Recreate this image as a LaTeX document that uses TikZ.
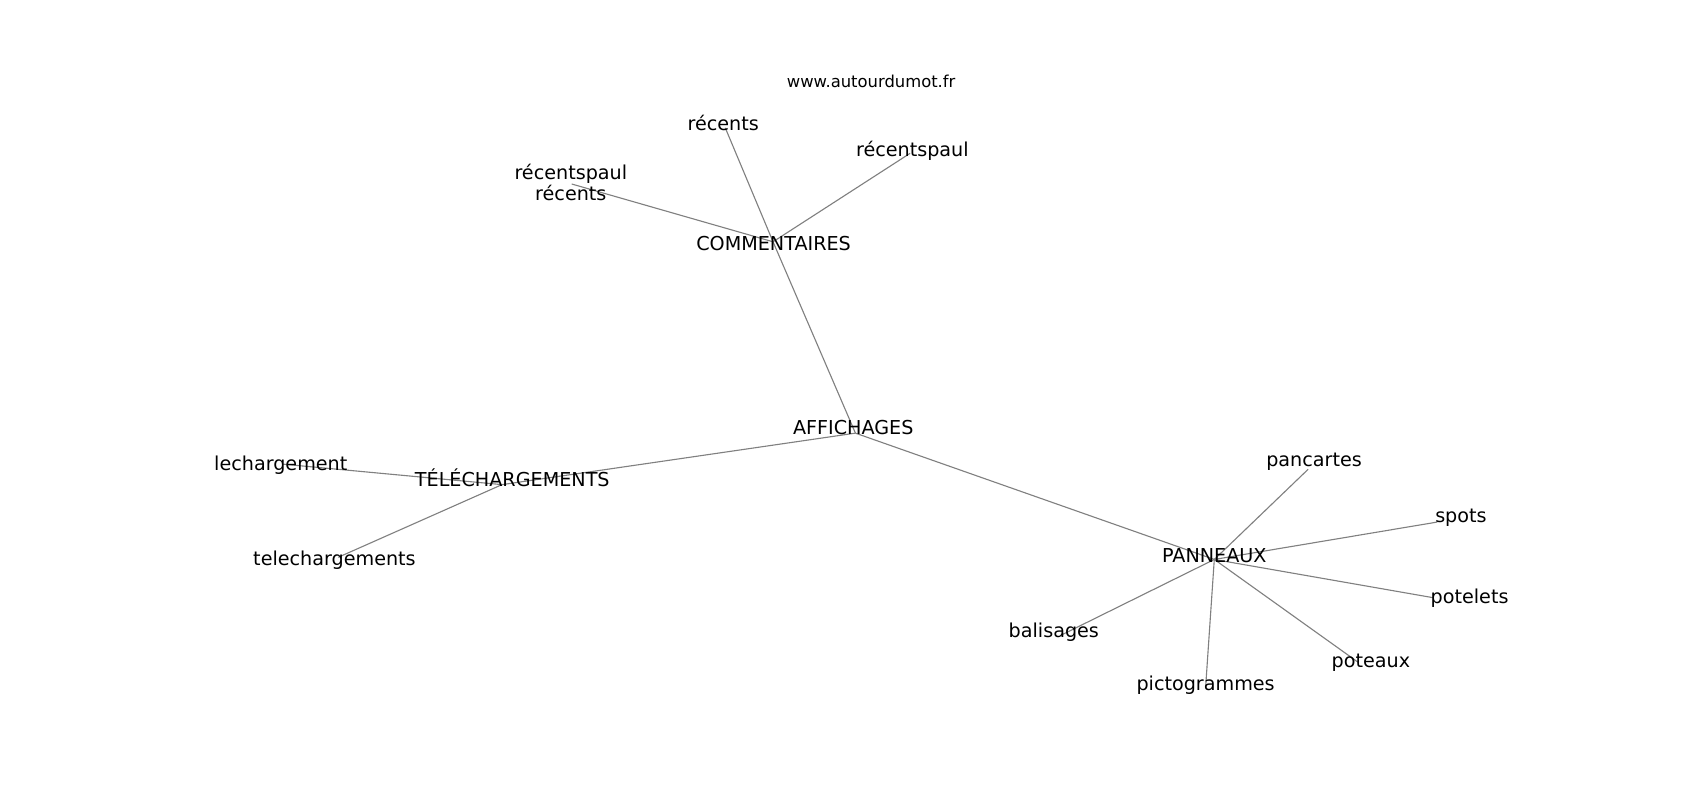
\documentclass[tikz,border=0pt]{standalone}
\usepackage{fontspec}
\setmainfont{DejaVu Sans}
\begin{document}
\begin{tikzpicture}[x=0.7806pt,y=-0.7806pt,
  edge/.style={draw=black!50, line width=0.8pt},
  lbl/.style={font=\fontsize{13.8}{14.9}\selectfont, inner sep=0pt, anchor=base, text=black},
  ttl/.style={font=\fontsize{11.8}{14}\selectfont, inner sep=0pt, anchor=base, text=black}]
\useasboundingbox (0,0) rectangle (1568,738);
\fill[white] (0,0) rectangle (1568,738);
% graph node positions
\coordinate (affichages) at (789,399.5);
\coordinate (commentaires) at (713,223);
\coordinate (recents) at (669,118);
\coordinate (recentspaul) at (839.4,141.4);
\coordinate (recpr) at (527.3,169.7);
\coordinate (telechs) at (463,447);
\coordinate (lechargement) at (260,428);
\coordinate (telechargements) at (312,514);
\coordinate (panneaux) at (1120,516);
\coordinate (pancartes) at (1206.6,432.8);
\coordinate (spots) at (1325.7,481.5);
\coordinate (potelets) at (1322,551.3);
\coordinate (poteaux) at (1252.6,610.8);
\coordinate (pictogrammes) at (1112,633.8);
\coordinate (balisages) at (979.6,585.4);
% edges
\draw[edge] (affichages) -- (commentaires);
\draw[edge] (affichages) -- (telechs);
\draw[edge] (affichages) -- (panneaux);
\draw[edge] (commentaires) -- (recents);
\draw[edge] (commentaires) -- (recentspaul);
\draw[edge] (commentaires) -- (recpr);
\draw[edge] (telechs) -- (lechargement);
\draw[edge] (telechs) -- (telechargements);
\draw[edge] (panneaux) -- (pancartes);
\draw[edge] (panneaux) -- (spots);
\draw[edge] (panneaux) -- (potelets);
\draw[edge] (panneaux) -- (poteaux);
\draw[edge] (panneaux) -- (pictogrammes);
\draw[edge] (panneaux) -- (balisages);
% labels
\node[ttl] (title) at (803.5,81) {www.autourdumot.fr};
\node[lbl] (l-recents) at (667,120) {récents};
\node[lbl] (l-recentspaul) at (841.5,144.5) {récentspaul};
\node[lbl, anchor=center, align=center] (l-recpr) at (526.5,168.5) {récentspaul\\récents};
\node[lbl] (l-commentaires) at (713.5,231) {COMMENTAIRES};
\node[lbl] (l-affichages) at (787,401) {AFFICHAGES};
\node[lbl] (l-telechs) at (472.5,449) {TÉLÉCHARGEMENTS};
\node[lbl] (l-lechargement) at (259,434) {lechargement};
\node[lbl] (l-telechargements) at (308.5,522) {telechargements};
\node[lbl] (l-panneaux) at (1120,518.5) {PANNEAUX};
\node[lbl] (l-pancartes) at (1212,430.5) {pancartes};
\node[lbl] (l-spots) at (1347.5,481.5) {spots};
\node[lbl] (l-potelets) at (1355.5,557) {potelets};
\node[lbl] (l-poteaux) at (1264.5,616) {poteaux};
\node[lbl] (l-pictogrammes) at (1112,637) {pictogrammes};
\node[lbl] (l-balisages) at (972,588) {balisages};
\end{tikzpicture}
\end{document}
